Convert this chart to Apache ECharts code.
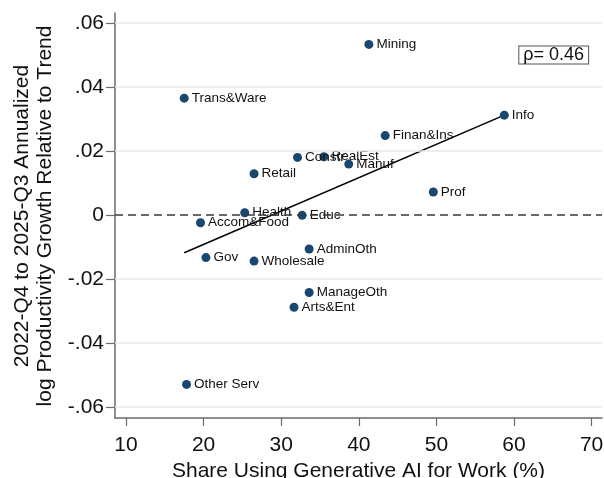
<!DOCTYPE html>
<html>
<head>
<meta charset="utf-8">
<script src="https://cdn.jsdelivr.net/npm/echarts@6/dist/echarts.min.js"></script>
<style>html,body{margin:0;padding:0;background:#fff}#c{width:604px;height:478px}</style>
</head>
<body>
<div id="c"></div>
<script>
const categories = ['Mining','Info','Finan&Ins','Manuf','Prof','Trans&Ware','Constr','RealEst','Retail','Health','Educ','Accom&Food','Gov','Wholesale','AdminOth','ManageOth','Arts&Ent','Other Serv'];
const aiShare = [41.3, 58.75, 43.4, 38.7, 49.6, 17.5, 32.1, 35.5, 26.5, 25.3, 32.7, 19.6, 20.3, 26.5, 33.6, 33.6, 31.65, 17.8];
const prodGrowth = [0.0533, 0.0312, 0.0248, 0.0159, 0.0072, 0.0365, 0.0180, 0.0182, 0.0129, 0.0007, -0.0001, -0.0024, -0.0133, -0.0144, -0.0106, -0.0242, -0.0288, -0.0529];
const fitX = [17.5, 58.75];
const fitY = [-0.0118, 0.0312];
const xTicks = [10, 20, 30, 40, 50, 60, 70];
const yTicks = [-0.06, -0.04, -0.02, 0, 0.02, 0.04, 0.06];
const yTickLabels = ['-.06', '-.04', '-.02', '0', '.02', '.04', '.06'];
const rhoText = 'ρ= 0.46';
const xTitle = 'Share Using Generative AI for Work (%)';
const yTitle = ['2022-Q4 to 2025-Q3 Annualized', 'log Productivity Growth Relative to Trend'];

const FONT = '"Liberation Sans", Arial, Helvetica, sans-serif';
const chart = echarts.init(document.getElementById('c'), null, {renderer: 'canvas'});

const scatterData = categories.map((c, i) => ({name: c, value: [aiShare[i], prodGrowth[i]]}));
const fitData = fitX.map((x, i) => [x, fitY[i]]);

chart.setOption({
  animation: false,
  backgroundColor: '#fff',
  grid: {left: 115, right: 2, top: 13, bottom: 60, containLabel: false, outerBoundsMode: 'none'},
  xAxis: {
    type: 'value', min: 8.58, max: 71.34,
    name: xTitle, nameLocation: 'middle', nameGap: 38,
    nameTextStyle: {fontFamily: FONT, fontSize: 21, color: '#111'},
    axisLine: {show: true, onZero: false, lineStyle: {color: '#6a6a6a', width: 1.5}},
    axisTick: {show: true, customValues: xTicks, length: 8, lineStyle: {color: '#6a6a6a', width: 1.2}},
    axisLabel: {customValues: xTicks, fontFamily: FONT, fontSize: 21, color: '#111', margin: 17},
    splitLine: {show: false}
  },
  yAxis: {
    type: 'value', min: -0.0634, max: 0.0631,
    axisLine: {show: true, onZero: false, lineStyle: {color: '#6a6a6a', width: 1.5}},
    axisTick: {show: true, customValues: yTicks, length: 9, lineStyle: {color: '#6a6a6a', width: 1.2}},
    axisLabel: {
      customValues: yTicks, fontFamily: FONT, fontSize: 21, color: '#111', margin: 11,
      formatter: function (v) {
        for (let i = 0; i < yTicks.length; i++) { if (Math.abs(v - yTicks[i]) < 1e-9) return yTickLabels[i]; }
        return '';
      }
    },
    splitLine: {show: false}
  },
  graphic: [
    {
      type: 'text', x: 34, y: 216, rotation: Math.PI / 2,
      style: {text: yTitle.join('\n'), font: '21px ' + FONT, fill: '#111', textAlign: 'center', textVerticalAlign: 'middle', lineHeight: 23}
    },
    {
      type: 'text', x: 553.7, y: 55,
      style: {text: rhoText, font: '18px ' + FONT, fill: '#111', textAlign: 'center', textVerticalAlign: 'middle',
        lineHeight: 16, padding: [1, 4, 0, 4], backgroundColor: '#fff', borderColor: '#555', borderWidth: 1}
    }
  ],
  series: [
    {
      type: 'line', data: fitData, z: 1, silent: true, symbol: 'none',
      lineStyle: {opacity: 0},
      markLine: {
        silent: true, symbol: ['none', 'none'], label: {show: false}, animation: false,
        lineStyle: {color: '#e8e8e8', width: 1.5, type: 'solid', opacity: 1},
        data: yTicks.filter(v => v !== 0).map(v => ({yAxis: v}))
      }
    },
    {
      type: 'line', data: fitData, z: 2, silent: true, symbol: 'none',
      lineStyle: {opacity: 0},
      markLine: {
        silent: true, symbol: ['none', 'none'], label: {show: false}, animation: false,
        lineStyle: {color: '#3a3a3a', width: 1.5, type: [8, 5], opacity: 1},
        data: [{yAxis: 0}]
      }
    },
    {
      type: 'line', data: fitData, z: 3, symbol: 'none', silent: true,
      lineStyle: {color: '#000', width: 1.5}
    },
    {
      type: 'scatter', data: scatterData, z: 4, symbolSize: 9,
      itemStyle: {color: '#1a476f', opacity: 1},
      label: {show: true, position: 'right', distance: 3, formatter: '{b}', fontFamily: FONT, fontSize: 13.5, color: '#111'}
    }
  ]
});
</script>
</body>
</html>
